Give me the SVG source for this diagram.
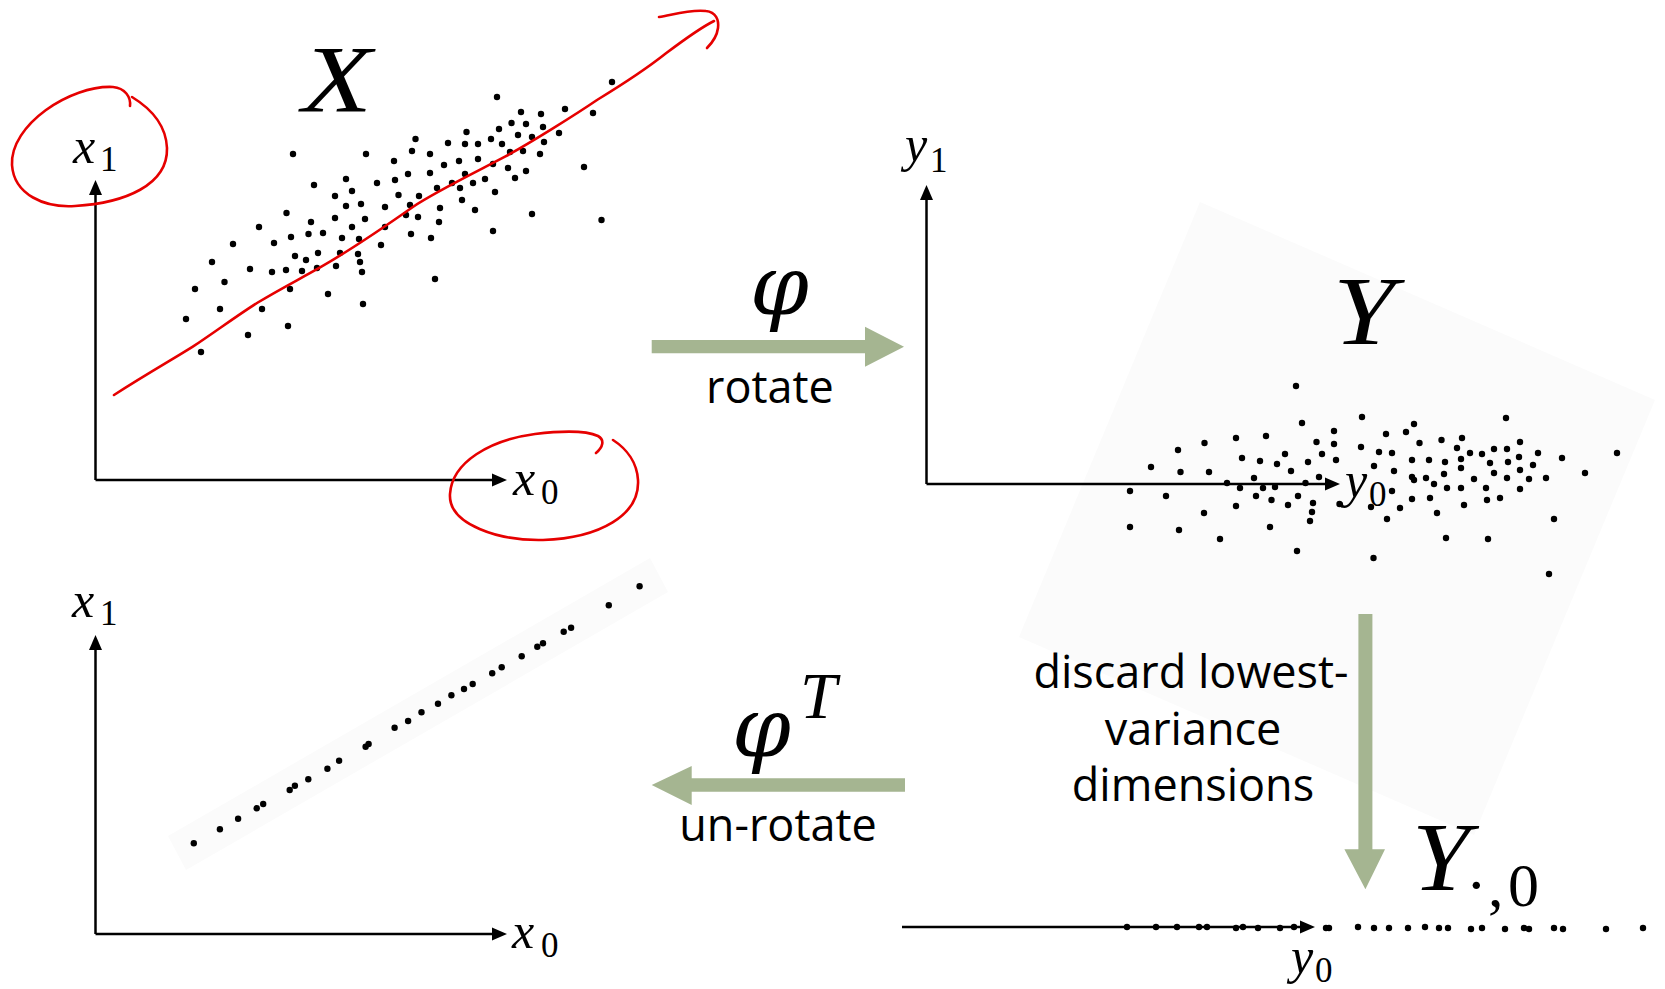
<svg xmlns="http://www.w3.org/2000/svg" width="1665" height="989" viewBox="0 0 1665 989">
<style>
.ax{stroke:#000;stroke-width:2.5;fill:none;marker-end:url(#ah)}
.dots circle{fill:#000}
.red{stroke:#e60000;stroke-width:2.6;fill:none;stroke-linecap:round;stroke-linejoin:round}
.m{font-family:"Liberation Serif","DejaVu Serif",serif;font-style:italic;fill:#000}
.ph{font-family:"DejaVu Serif",serif;font-style:italic;fill:#000}
.r{font-family:"Liberation Serif","DejaVu Serif",serif;font-style:normal;fill:#000}
.lbl{font-family:"Open Sans","Noto Sans",sans-serif;font-size:45px;fill:#000;text-anchor:middle}
.g{fill:#a5b591}
.bg{fill:#fbfbfb}
</style>
<defs>
<marker id="ah" markerUnits="userSpaceOnUse" markerWidth="16" markerHeight="14" refX="0" refY="6.5" orient="auto" overflow="visible"><path d="M0,0 L15,6.5 L0,13 z" fill="#000"/></marker>
</defs>
<rect width="1665" height="989" fill="#fff"/>

<!-- faint rotated backgrounds -->
<polygon class="bg" points="1200,202 1655,400 1474,835 1019,637"/>
<polygon class="bg" points="650,558 668,592 186,870 168,836"/>

<!-- Panel X (top-left) -->
<g id="panel-x">
<line class="ax" x1="95.5" y1="480" x2="95.5" y2="195"/>
<line class="ax" x1="95.5" y1="480" x2="492" y2="480"/>
<text class="m" x="73" y="163" font-size="50">x</text><text class="r" x="100" y="171" font-size="35">1</text>
<text class="m" x="513" y="495" font-size="50">x</text><text class="r" x="541" y="504" font-size="35">0</text>
<text class="m" x="302" y="112" font-size="96" textLength="70" lengthAdjust="spacingAndGlyphs">X</text>
<g class="dots">
<circle cx="497" cy="97" r="3.2"/><circle cx="612" cy="82" r="3.2"/><circle cx="521" cy="112" r="3.2"/><circle cx="541" cy="114" r="3.2"/><circle cx="565" cy="109" r="3.2"/><circle cx="593" cy="113" r="3.2"/><circle cx="511.5" cy="123" r="3.2"/><circle cx="526" cy="124" r="3.2"/><circle cx="499" cy="129" r="3.2"/><circle cx="543" cy="127" r="3.2"/><circle cx="466.5" cy="132" r="3.2"/><circle cx="518" cy="135" r="3.2"/><circle cx="532" cy="137" r="3.2"/><circle cx="559" cy="133" r="3.2"/><circle cx="415.5" cy="139" r="3.2"/><circle cx="448" cy="143" r="3.2"/><circle cx="465" cy="144" r="3.2"/><circle cx="478" cy="144" r="3.2"/><circle cx="491" cy="139" r="3.2"/><circle cx="502" cy="144" r="3.2"/><circle cx="544" cy="142" r="3.2"/><circle cx="293" cy="154" r="3.2"/><circle cx="366" cy="154" r="3.2"/><circle cx="412" cy="151" r="3.2"/><circle cx="430" cy="154" r="3.2"/><circle cx="510" cy="152" r="3.2"/><circle cx="523" cy="151" r="3.2"/><circle cx="540" cy="154" r="3.2"/><circle cx="394" cy="161" r="3.2"/><circle cx="459" cy="161" r="3.2"/><circle cx="478" cy="159" r="3.2"/><circle cx="444" cy="165" r="3.2"/><circle cx="493" cy="164" r="3.2"/><circle cx="508" cy="168" r="3.2"/><circle cx="526" cy="171" r="3.2"/><circle cx="584" cy="167" r="3.2"/><circle cx="408" cy="174" r="3.2"/><circle cx="430" cy="173" r="3.2"/><circle cx="465" cy="174" r="3.2"/><circle cx="395" cy="180" r="3.2"/><circle cx="377" cy="183" r="3.2"/><circle cx="346" cy="179" r="3.2"/><circle cx="314" cy="185" r="3.2"/><circle cx="452" cy="183" r="3.2"/><circle cx="437" cy="188" r="3.2"/><circle cx="460" cy="188" r="3.2"/><circle cx="473" cy="183" r="3.2"/><circle cx="485" cy="179" r="3.2"/><circle cx="515" cy="178" r="3.2"/><circle cx="495" cy="192" r="3.2"/><circle cx="352" cy="191" r="3.2"/><circle cx="335" cy="196" r="3.2"/><circle cx="398.5" cy="195" r="3.2"/><circle cx="419" cy="196" r="3.2"/><circle cx="462" cy="200" r="3.2"/><circle cx="361" cy="204" r="3.2"/><circle cx="346" cy="206" r="3.2"/><circle cx="385" cy="207" r="3.2"/><circle cx="410" cy="205" r="3.2"/><circle cx="440" cy="208" r="3.2"/><circle cx="475" cy="210" r="3.2"/><circle cx="286.5" cy="213" r="3.2"/><circle cx="532" cy="214" r="3.2"/><circle cx="601.5" cy="220" r="3.2"/><circle cx="335" cy="218" r="3.2"/><circle cx="365" cy="219" r="3.2"/><circle cx="406" cy="215" r="3.2"/><circle cx="418" cy="217" r="3.2"/><circle cx="439" cy="222" r="3.2"/><circle cx="311" cy="222" r="3.2"/><circle cx="259" cy="227" r="3.2"/><circle cx="352" cy="227" r="3.2"/><circle cx="385" cy="227" r="3.2"/><circle cx="493" cy="231" r="3.2"/><circle cx="411" cy="234" r="3.2"/><circle cx="431" cy="238" r="3.2"/><circle cx="291" cy="237" r="3.2"/><circle cx="308.5" cy="234" r="3.2"/><circle cx="323" cy="233" r="3.2"/><circle cx="342" cy="238" r="3.2"/><circle cx="359" cy="239" r="3.2"/><circle cx="274" cy="243" r="3.2"/><circle cx="233" cy="244" r="3.2"/><circle cx="381" cy="245" r="3.2"/><circle cx="340" cy="253" r="3.2"/><circle cx="358" cy="254" r="3.2"/><circle cx="318" cy="253" r="3.2"/><circle cx="295" cy="256" r="3.2"/><circle cx="306" cy="260" r="3.2"/><circle cx="212" cy="262" r="3.2"/><circle cx="360" cy="262" r="3.2"/><circle cx="250" cy="269" r="3.2"/><circle cx="272" cy="272" r="3.2"/><circle cx="286" cy="270" r="3.2"/><circle cx="302" cy="271" r="3.2"/><circle cx="317" cy="268" r="3.2"/><circle cx="336" cy="266" r="3.2"/><circle cx="362" cy="272" r="3.2"/><circle cx="435" cy="279" r="3.2"/><circle cx="224.5" cy="282" r="3.2"/><circle cx="195" cy="289" r="3.2"/><circle cx="290" cy="289" r="3.2"/><circle cx="328" cy="294" r="3.2"/><circle cx="363" cy="304" r="3.2"/><circle cx="220" cy="309" r="3.2"/><circle cx="262" cy="309" r="3.2"/><circle cx="186" cy="319" r="3.2"/><circle cx="288" cy="326" r="3.2"/><circle cx="248" cy="335" r="3.2"/><circle cx="201" cy="352" r="3.2"/>
</g>
<!-- red annotations -->
<path class="red" d="M130,106 C131,97 125,88 113,87 C70,85 10,125 12,165 C14,195 45,208 75,206 C125,203 168,185 167,148 C166,125 150,108 132,97"/>
<path class="red" d="M596,453 C603,447 605,440 598,436 C585,430 560,431 535,434 C490,440 452,462 450,494 C448,525 500,541 543,540 C600,538 640,515 638,480 C637,463 627,449 613,440"/>
<path class="red" d="M114,395 C150,372 175,358 192.8,346.7 C215,332 235,317 257,303 C280,289 300,279 321.4,266.7 C345,253 390,223 413.2,206.7 C435,192 480,170 505,156.7 C530,143 575,115 597,100 C620,86 645,70 666,53.3 C685,39 700,28 714,21"/>
<path class="red" d="M659,17 C672,15 690,9 706,11 C716,12 719,20 718,28 C717,36 712,43 707,48"/>
</g>

<!-- Panel Y (top-right) -->
<g id="panel-y">
<line class="ax" x1="926.5" y1="484" x2="926.5" y2="200"/>
<line class="ax" x1="926.5" y1="484" x2="1325" y2="484"/>
<text class="m" x="905" y="161" font-size="50">y</text><text class="r" x="930" y="172" font-size="35">1</text>
<text class="m" x="1333" y="344" font-size="98" textLength="62" lengthAdjust="spacingAndGlyphs">Y</text>
<g class="dots">
<circle cx="1296" cy="386" r="3.2"/><circle cx="1362" cy="417" r="3.2"/><circle cx="1506" cy="418" r="3.2"/><circle cx="1302" cy="423" r="3.2"/><circle cx="1334" cy="431" r="3.2"/><circle cx="1414" cy="424" r="3.2"/><circle cx="1406" cy="432" r="3.2"/><circle cx="1386" cy="434" r="3.2"/><circle cx="1236" cy="438" r="3.2"/><circle cx="1266" cy="436" r="3.2"/><circle cx="1204.5" cy="443" r="3.2"/><circle cx="1316.5" cy="442" r="3.2"/><circle cx="1334" cy="444" r="3.2"/><circle cx="1419.5" cy="443" r="3.2"/><circle cx="1441.5" cy="440" r="3.2"/><circle cx="1462" cy="438" r="3.2"/><circle cx="1520" cy="442" r="3.2"/><circle cx="1178" cy="450" r="3.2"/><circle cx="1361" cy="447" r="3.2"/><circle cx="1379" cy="452" r="3.2"/><circle cx="1392" cy="453" r="3.2"/><circle cx="1457" cy="448" r="3.2"/><circle cx="1470" cy="453" r="3.2"/><circle cx="1482" cy="454" r="3.2"/><circle cx="1494" cy="449" r="3.2"/><circle cx="1507" cy="449" r="3.2"/><circle cx="1538" cy="453" r="3.2"/><circle cx="1617" cy="453" r="3.2"/><circle cx="1285" cy="454" r="3.2"/><circle cx="1322" cy="454" r="3.2"/><circle cx="1242" cy="458" r="3.2"/><circle cx="1260" cy="461" r="3.2"/><circle cx="1277" cy="464" r="3.2"/><circle cx="1308" cy="462" r="3.2"/><circle cx="1336" cy="460" r="3.2"/><circle cx="1412" cy="460" r="3.2"/><circle cx="1429" cy="460" r="3.2"/><circle cx="1445" cy="462" r="3.2"/><circle cx="1461" cy="459" r="3.2"/><circle cx="1490" cy="463" r="3.2"/><circle cx="1508" cy="462" r="3.2"/><circle cx="1519" cy="457" r="3.2"/><circle cx="1533" cy="465" r="3.2"/><circle cx="1562" cy="458" r="3.2"/><circle cx="1151" cy="467" r="3.2"/><circle cx="1180.5" cy="472" r="3.2"/><circle cx="1209" cy="472" r="3.2"/><circle cx="1291" cy="471" r="3.2"/><circle cx="1374" cy="466" r="3.2"/><circle cx="1394" cy="471" r="3.2"/><circle cx="1412" cy="477" r="3.2"/><circle cx="1426" cy="478" r="3.2"/><circle cx="1444" cy="474" r="3.2"/><circle cx="1461" cy="468" r="3.2"/><circle cx="1494" cy="473" r="3.2"/><circle cx="1507" cy="478" r="3.2"/><circle cx="1520" cy="470" r="3.2"/><circle cx="1529" cy="479" r="3.2"/><circle cx="1546" cy="478" r="3.2"/><circle cx="1585" cy="473" r="3.2"/><circle cx="1319" cy="477" r="3.2"/><circle cx="1227" cy="483" r="3.2"/><circle cx="1254" cy="478" r="3.2"/><circle cx="1263" cy="488" r="3.2"/><circle cx="1275" cy="487" r="3.2"/><circle cx="1240" cy="488" r="3.2"/><circle cx="1305.5" cy="483" r="3.2"/><circle cx="1434" cy="484" r="3.2"/><circle cx="1447" cy="488" r="3.2"/><circle cx="1461" cy="488" r="3.2"/><circle cx="1474" cy="479" r="3.2"/><circle cx="1486" cy="488" r="3.2"/><circle cx="1520" cy="489" r="3.2"/><circle cx="1414" cy="480" r="3.2"/><circle cx="1130" cy="491" r="3.2"/><circle cx="1166" cy="496" r="3.2"/><circle cx="1256" cy="496" r="3.2"/><circle cx="1271.5" cy="500" r="3.2"/><circle cx="1298" cy="496" r="3.2"/><circle cx="1313" cy="503" r="3.2"/><circle cx="1339.5" cy="504" r="3.2"/><circle cx="1371" cy="507" r="3.2"/><circle cx="1392" cy="491" r="3.2"/><circle cx="1400" cy="508" r="3.2"/><circle cx="1412" cy="499" r="3.2"/><circle cx="1430" cy="498" r="3.2"/><circle cx="1464" cy="505" r="3.2"/><circle cx="1487" cy="500" r="3.2"/><circle cx="1500" cy="498" r="3.2"/><circle cx="1236" cy="506" r="3.2"/><circle cx="1288" cy="505" r="3.2"/><circle cx="1204" cy="513" r="3.2"/><circle cx="1312" cy="512" r="3.2"/><circle cx="1437" cy="513" r="3.2"/><circle cx="1387" cy="519" r="3.2"/><circle cx="1554" cy="519" r="3.2"/><circle cx="1310" cy="521" r="3.2"/><circle cx="1130" cy="527" r="3.2"/><circle cx="1179" cy="530" r="3.2"/><circle cx="1270" cy="527" r="3.2"/><circle cx="1220" cy="539" r="3.2"/><circle cx="1446" cy="538" r="3.2"/><circle cx="1488" cy="539" r="3.2"/><circle cx="1297" cy="551" r="3.2"/><circle cx="1373.5" cy="558" r="3.2"/><circle cx="1549" cy="574" r="3.2"/>
</g>
<text class="m" x="1345" y="497" font-size="50">y</text><text class="r" x="1369" y="506" font-size="35">0</text>
</g>

<!-- Panel reconstructed (bottom-left) -->
<g id="panel-recon">
<line class="ax" x1="95.5" y1="934" x2="95.5" y2="650"/>
<line class="ax" x1="95.5" y1="934" x2="492" y2="934"/>
<text class="m" x="72" y="617" font-size="50">x</text><text class="r" x="100" y="625" font-size="35">1</text>
<text class="m" x="512" y="948" font-size="50">x</text><text class="r" x="541" y="957" font-size="35">0</text>
<g class="dots">
<circle cx="193.8" cy="843.3" r="3.2"/><circle cx="219.9" cy="829.3" r="3.2"/><circle cx="238.1" cy="818.7" r="3.2"/><circle cx="256.7" cy="808.3" r="3.2"/><circle cx="263.2" cy="804" r="3.2"/><circle cx="289.7" cy="790" r="3.2"/><circle cx="294.9" cy="785.7" r="3.2"/><circle cx="308.3" cy="779.3" r="3.2"/><circle cx="327.4" cy="768.7" r="3.2"/><circle cx="339.1" cy="760.7" r="3.2"/><circle cx="365.6" cy="746.7" r="3.2"/><circle cx="368.6" cy="744" r="3.2"/><circle cx="394.6" cy="727.7" r="3.2"/><circle cx="408.1" cy="721" r="3.2"/><circle cx="421.5" cy="712.3" r="3.2"/><circle cx="438" cy="703.7" r="3.2"/><circle cx="451.4" cy="695.3" r="3.2"/><circle cx="464" cy="689" r="3.2"/><circle cx="472.7" cy="684" r="3.2"/><circle cx="492.2" cy="673.3" r="3.2"/><circle cx="501.7" cy="667.3" r="3.2"/><circle cx="521.7" cy="656.3" r="3.2"/><circle cx="537.3" cy="646.7" r="3.2"/><circle cx="543" cy="643.3" r="3.2"/><circle cx="563.7" cy="631.7" r="3.2"/><circle cx="571.1" cy="627.7" r="3.2"/><circle cx="608.8" cy="605.3" r="3.2"/><circle cx="639.6" cy="586.3" r="3.2"/>
</g>
</g>

<!-- Panel projected (bottom-right) -->
<g id="panel-proj">
<line class="ax" x1="902" y1="927" x2="1300" y2="927"/>
<g class="dots">
<circle cx="1127" cy="927" r="3.2"/><circle cx="1156" cy="927" r="3.2"/><circle cx="1177" cy="927" r="3.2"/><circle cx="1199" cy="927" r="3.2"/><circle cx="1207" cy="927" r="3.2"/><circle cx="1236" cy="928" r="3.2"/><circle cx="1243" cy="927" r="3.2"/><circle cx="1258" cy="928" r="3.2"/><circle cx="1280" cy="928" r="3.2"/><circle cx="1294" cy="927" r="3.2"/><circle cx="1326" cy="928" r="3.2"/><circle cx="1329" cy="928" r="3.2"/><circle cx="1358" cy="927" r="3.2"/><circle cx="1374" cy="928" r="3.2"/><circle cx="1389" cy="928" r="3.2"/><circle cx="1408" cy="928" r="3.2"/><circle cx="1425" cy="927" r="3.2"/><circle cx="1439" cy="928" r="3.2"/><circle cx="1448" cy="928" r="3.2"/><circle cx="1471" cy="929" r="3.2"/><circle cx="1482" cy="928" r="3.2"/><circle cx="1505" cy="929" r="3.2"/><circle cx="1524" cy="928" r="3.2"/><circle cx="1529" cy="929" r="3.2"/><circle cx="1554" cy="928" r="3.2"/><circle cx="1563" cy="929" r="3.2"/><circle cx="1606" cy="929" r="3.2"/><circle cx="1643" cy="928" r="3.2"/>
</g>
<text class="m" x="1291" y="973" font-size="50">y</text><text class="r" x="1315" y="982" font-size="35">0</text>
<text class="m" x="1412" y="890" font-size="98" textLength="58" lengthAdjust="spacingAndGlyphs">Y</text>
<text class="r" font-size="62" y="906"><tspan x="1466">·</tspan><tspan x="1488">,</tspan><tspan x="1508">0</tspan></text>
</g>

<!-- Connectors -->
<g id="connectors">
<g id="arrow-rotate">
<polygon class="g" points="651.7,340 865,340 865,326.7 904,346.7 865,366.7 865,353.3 651.7,353.3"/>
<text class="ph" x="750" y="314" font-size="84">φ</text>
<text class="lbl" x="770" y="403">rotate</text>
</g>
<g id="arrow-unrotate">
<polygon class="g" points="905,778.3 691.7,778.3 691.7,766 651.7,785 691.7,805 691.7,791.7 905,791.7"/>
<text class="ph" x="732" y="756" font-size="84">φ</text>
<text class="m" x="800" y="718" font-size="66">T</text>
<text class="lbl" x="778" y="841">un-rotate</text>
</g>
<g id="arrow-discard">
<polygon class="g" points="1358.4,614 1372.4,614 1372.4,849.3 1385,849.3 1365.4,889.3 1344.4,849.3 1358.4,849.3"/>
<text class="lbl"><tspan x="1191" y="688">discard lowest-</tspan><tspan x="1193" y="744.5">variance</tspan><tspan x="1193" y="801">dimensions</tspan></text>
</g>
</g>
</svg>
